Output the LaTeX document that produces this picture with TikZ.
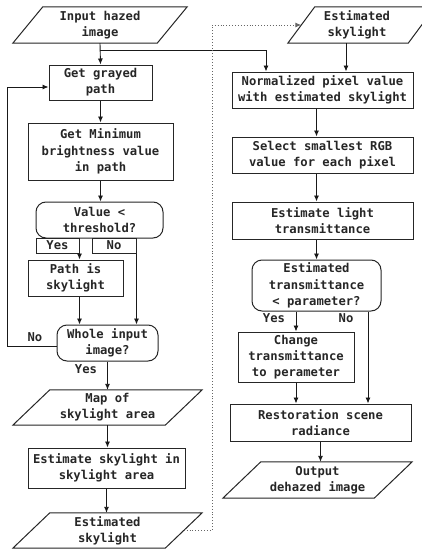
\documentclass[tikz,border=0pt]{standalone}
\usepackage{fontspec}
\setmonofont{DejaVu Sans Mono}
\usetikzlibrary{arrows.meta,calc}
\tikzset{
  txt/.style={font=\ttfamily\bfseries\fontsize{12.2}{16.2}\selectfont, align=center, inner sep=0pt, text=black!85},
  box/.style={txt, draw=black!85, line width=1pt, rectangle},
  rbox/.style={box, rounded corners=10pt},
  ptext/.style={txt},
  pline/.style={draw=black!85, line width=1pt},
  lbl/.style={txt},
  ybox/.style={txt, draw=black!85, line width=1pt, rectangle},
  arr/.style={draw=black!90, line width=0.9pt, -{Latex[length=6pt,width=5pt]}},
  dots/.style={draw=black!60, line width=0.9pt, dotted, -{Latex[length=6pt,width=5pt]}}
}
\newcommand\para[7]{%
  \node[ptext, minimum width=#4pt, minimum height=#5pt] (#1) at (#2,#3) {#7};
  \draw[pline] ([xshift=#6pt]#1.north west) -- (#1.north east) -- ([xshift=-#6pt]#1.south east) -- (#1.south west) -- cycle;
}
\begin{document}
\begin{tikzpicture}[x=1pt,y=-1pt]
\useasboundingbox (0,0) rectangle (422,554);
\clip (0,0) rectangle (422,554);
\fill[white] (0,0) rectangle (422,554);

% left column
\para{in}{100}{25}{174}{36}{30}{Input hazed\\image}
\node[box, minimum width=103pt, minimum height=35pt] (gp) at (100.5,82.5) {Get grayed\\path};
\node[box, minimum width=145pt, minimum height=57pt] (gm) at (100.5,151.5) {Get Minimum\\brightness value\\in path};
\node[rbox, minimum width=127pt, minimum height=36pt] (d1) at (99.5,220) {Value <\\threshold?};
\node[ybox, minimum width=43pt, minimum height=15pt] (yesl) at (57.5,245.5) {Yes};
\node[ybox, minimum width=44pt, minimum height=15pt] (nol) at (114,245.5) {No};
\node[box, minimum width=95pt, minimum height=36pt] (ps) at (75.5,278) {Path is\\skylight};
\node[rbox, minimum width=101pt, minimum height=36pt] (wi) at (107.5,343) {Whole input\\image?};
\node[lbl] (nolab) at (35,337) {No};
\node[lbl] (yeslab) at (86,369) {Yes};
\para{map}{107.5}{407.5}{189}{35}{37}{Map of\\skylight area}
\node[box, minimum width=157pt, minimum height=40pt] (est) at (106.5,468) {Estimate skylight in\\skylight area};
\para{es1}{107.5}{530.5}{189}{35}{37}{Estimated\\skylight}

% right column
\para{es2}{361.5}{25}{147}{36}{27}{\hspace*{-9pt}Estimated\\\hspace*{-9pt}skylight}
\node[box, minimum width=181pt, minimum height=36pt] (norm) at (322.5,90) {Normalized pixel value\\with estimated skylight};
\node[box, minimum width=181pt, minimum height=36pt] (sel) at (322.5,155) {Select smallest RGB\\value for each pixel};
\node[box, minimum width=181pt, minimum height=37pt] (el) at (322.5,220.5) {Estimate light\\transmittance};
\node[rbox, minimum width=129pt, minimum height=51pt] (d2) at (316.5,285.5) {Estimated\\transmittance\\< parameter?};
\node[lbl] (yes2) at (274,318) {Yes};
\node[lbl] (no2) at (346,318) {No};
\node[box, minimum width=116pt, minimum height=50pt] (ch) at (296,357) {Change\\transmittance\\to perameter};
\node[box, minimum width=181pt, minimum height=37pt] (rest) at (320.5,422.5) {Restoration scene\\radiance};
\para{out}{317.5}{480}{189}{36}{38}{Output\\dehazed image}

% helper coordinates
\coordinate (br) at (100,50);
\coordinate (brx) at (266,0);
\coordinate (fbx) at (7,0);
\coordinate (fbA) at ([yshift=-3pt]wi.west);
\coordinate (fbB) at ([yshift=-4.5pt]gp.west);
\coordinate (dA) at ([xshift=-18.5pt]es1.east);
\coordinate (dB) at ([xshift=13.5pt]es2.west);
\coordinate (dx) at (212,0);
\coordinate (eA) at ([xshift=-15.5pt]es2.south);
\coordinate (nx) at (368,0);

% left connectors
\draw[arr] (in.south) -- (gp.north);
\draw[arr] (br) -- (br -| brx) -- (brx |- norm.north);
\draw[arr] (gp.south) -- (gm.north);
\draw[arr] (gm.south) -- (gm.south |- d1.north);
\draw[arr] (yesl.south east) -- (yesl.south east |- ps.north);
\draw[arr] (nol.south east) -- (nol.south east |- wi.north);
\draw[arr] (yesl.east |- ps.south) -- (yesl.east |- wi.north);
\draw[arr] (fbA) -- (fbA -| fbx) -- (fbx |- fbB) -- (fbB);
\draw[arr] (wi.south) -- (map.north);
\draw[arr] (map.south) -- (map.south |- est.north);
\draw[arr] (est.south) -- (est.south |- es1.north);
\draw[dots] (dA) -- (dA -| dx) -- (dx |- dB) -- (dB);

% right connectors
\draw[arr] (eA) -- (eA |- norm.north);
\draw[arr] (d2.north |- norm.south) -- (d2.north |- sel.north);
\draw[arr] (d2.north |- sel.south) -- (d2.north |- el.north);
\draw[arr] (d2.north |- el.south) -- (d2.north);
\draw[arr] (ch.north |- d2.south) -- (ch.north);
\draw[arr] (nx |- d2.south) -- (nx |- rest.north);
\draw[arr] (ch.south) -- (ch.south |- rest.north);
\draw[arr] (rest.south) -- (rest.south |- out.north);
\end{tikzpicture}
\end{document}
